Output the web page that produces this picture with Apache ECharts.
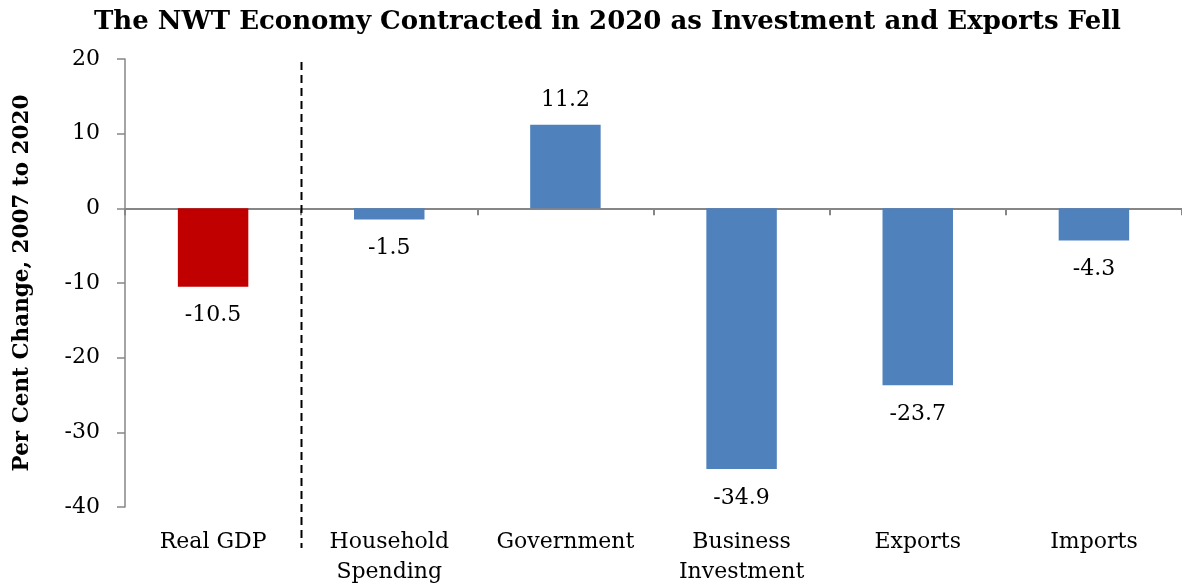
<!DOCTYPE html>
<html>
<head>
<meta charset="utf-8">
<script src="https://cdn.jsdelivr.net/npm/echarts@6/dist/echarts.min.js"></script>
<style>
  html, body { margin: 0; padding: 0; background: #fff; }
  #chart { width: 1182px; height: 587px; }
</style>
</head>
<body>
<div id="chart"></div>
<script>
// Components of NWT real GDP, per cent change 2007 to 2020
const categories = ['Real GDP', 'Household\nSpending', 'Government', 'Business\nInvestment', 'Exports', 'Imports'];
const values = [-10.5, -1.5, 11.2, -34.9, -23.7, -4.3];
const barColors = ['#C00000', '#4F81BD', '#4F81BD', '#4F81BD', '#4F81BD', '#4F81BD'];
const yTicks = { min: -40, max: 20, interval: 10 };

const FONT = 'DejaVu Serif';
const AXIS_GREY = '#868686';

const chart = echarts.init(document.getElementById('chart'), null, { renderer: 'canvas' });

const barData = values.map((v, i) => ({
  value: v,
  itemStyle: { color: barColors[i] },
  label: {
    position: v < 0 ? 'bottom' : 'top',
    distance: v < 0 ? 18 : 13
  }
}));

chart.setOption({
  animation: false,
  backgroundColor: '#ffffff',
  title: {
    text: 'The NWT Economy Contracted in 2020 as Investment and Exports Fell',
    left: 89,
    top: 4,
    textStyle: { fontFamily: FONT, fontWeight: 'bold', fontSize: 26, color: '#000' }
  },
  grid: { left: 125, right: -3, top: 59, bottom: 80, containLabel: false },
  xAxis: [
    {
      type: 'category',
      data: categories,
      position: 'bottom',
      axisLine: { onZero: true, lineStyle: { color: AXIS_GREY, width: 2 } },
      axisTick: { show: true, alignWithLabel: false, length: 7, lineStyle: { color: AXIS_GREY, width: 2 } },
      axisLabel: { show: false },
      splitLine: { show: false }
    },
    {
      type: 'category',
      data: categories,
      position: 'bottom',
      axisLine: { show: false, onZero: false },
      axisTick: { show: false },
      axisLabel: {
        show: true,
        margin: 20,
        fontFamily: FONT,
        fontSize: 22,
        lineHeight: 30,
        color: '#000',
        interval: 0
      },
      splitLine: { show: false }
    }
  ],
  yAxis: {
    type: 'value',
    min: yTicks.min,
    max: yTicks.max,
    interval: yTicks.interval,
    name: 'Per Cent Change, 2007 to 2020',
    nameLocation: 'middle',
    nameGap: 92,
    nameTextStyle: { fontFamily: FONT, fontWeight: 'bold', fontSize: 21.5, color: '#000' },
    axisLine: { show: true, lineStyle: { color: AXIS_GREY, width: 1.5 } },
    axisTick: { show: true, inside: false, length: 8, lineStyle: { color: AXIS_GREY, width: 1.5 } },
    axisLabel: { margin: 25, fontFamily: FONT, fontSize: 22, color: '#000' },
    splitLine: { show: false }
  },
  series: [
    {
      type: 'bar',
      xAxisIndex: 0,
      data: barData,
      barWidth: '40%',
      label: {
        show: true,
        fontFamily: FONT,
        fontSize: 22,
        color: '#000',
        formatter: p => p.value.toFixed(1)
      }
    }
  ]
});

// Dashed divider between the headline GDP figure and its components
const x0 = chart.convertToPixel({ xAxisIndex: 0 }, 0);
const x1 = chart.convertToPixel({ xAxisIndex: 0 }, 1);
const xDiv = Math.round((x0 + x1) / 2) + 0.5;
chart.setOption({
  graphic: [{
    type: 'line',
    shape: { x1: xDiv, y1: 62, x2: xDiv, y2: 548 },
    style: { stroke: '#000', lineWidth: 2, lineDash: [8, 5] },
    z: 10
  }]
});
</script>
</body>
</html>
